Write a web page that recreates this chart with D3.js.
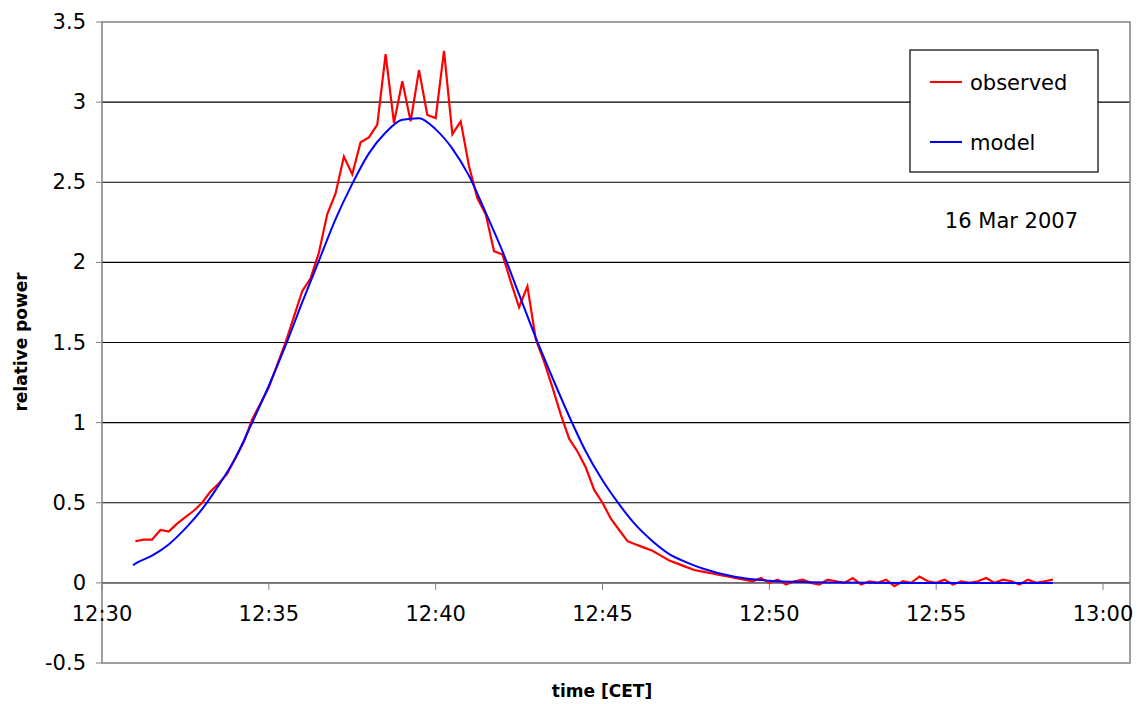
<!DOCTYPE html>
<html><head><meta charset="utf-8">
<script src="https://cdn.jsdelivr.net/npm/d3@7"></script>
<style>body{margin:0;background:#fff}text{font-family:"DejaVu Sans",Verdana,sans-serif}</style>
</head><body><svg id="c" width="1143" height="704"></svg>
<script>
// minutes after 12:30
const obsStart = 1.0, obsStep = 0.25;
const observed = [0.26,0.27,0.27,0.33,0.32,0.37,0.41,0.45,0.50,0.57,0.62,0.68,0.78,0.88,1.02,1.12,1.22,1.36,1.50,1.66,
  1.82,1.90,2.06,2.30,2.43,2.66,2.55,2.75,2.78,2.86,3.30,2.87,3.13,2.88,3.20,2.92,2.90,3.32,2.80,2.88,
  2.60,2.40,2.30,2.07,2.05,1.88,1.72,1.85,1.52,1.38,1.22,1.05,0.90,0.82,0.72,0.58,0.50,0.40,0.33,0.26,
  0.24,0.22,0.20,0.17,0.14,0.12,0.10,0.08,0.07,0.06,0.05,0.04,0.03,
  0.02,0.01,0.03,0.00,0.02,-0.01,0.01,0.02,0.00,-0.01,0.02,0.01,0.00,0.03,-0.01,0.01,0.00,0.02,-0.02,0.01,
  0.00,0.04,0.01,0.00,0.02,-0.01,0.01,0.00,0.01,0.03,0.00,0.02,0.01,-0.01,0.02,0.00,0.01,0.02];
const modelT = [0.93,1,1.5,2,2.5,3,3.5,4,4.5,5,5.5,6,6.5,7,7.5,8,8.5,9,9.5,10,10.5,11,11.5,12,12.5,13,13.5,14,14.5,15,15.5,16,16.5,17,17.5,18,19,20,21,22,24,26,28.5];
const modelV = [0.11,0.12,0.17,0.24,0.34,0.46,0.61,0.78,1.00,1.23,1.48,1.75,2.01,2.27,2.49,2.68,2.81,2.89,2.90,2.83,2.71,2.54,2.31,2.07,1.80,1.53,1.28,1.04,0.82,0.64,0.49,0.36,0.26,0.18,0.13,0.09,0.036,0.014,0.005,0.002,0,0,0];
const xTicks = ["12:30","12:35","12:40","12:45","12:50","12:55","13:00"];
const yTicks = [-0.5,0,0.5,1,1.5,2,2.5,3,3.5];

const svg = d3.select("#c");
const L=102,R=1130,T=22,B=663;
const x = d3.scaleLinear().domain([0,30]).range([L,1103]);
const y = d3.scaleLinear().domain([-0.5,3.5]).range([B,T]);

// gridlines
svg.append("g").selectAll("line").data(yTicks.filter(v=>v>-0.5&&v<3.5)).join("line")
  .attr("x1",L).attr("x2",R).attr("y1",y).attr("y2",y).attr("stroke","#000").attr("stroke-width",1.2);
svg.append("rect").attr("x",L).attr("y",T).attr("width",R-L).attr("height",B-T)
  .attr("fill","none").attr("stroke","#808080").attr("stroke-width",1.5);

// y tick labels
svg.append("g").selectAll("text").data(yTicks).join("text")
  .attr("x",L-16).attr("y",d=>y(d)+7).attr("text-anchor","end").attr("font-size",21)
  .text(d=>d);
svg.append("g").selectAll("line").data(yTicks).join("line")
  .attr("x1",L-6).attr("x2",L).attr("y1",y).attr("y2",y).attr("stroke","#808080");

// x axis at zero
svg.append("line").attr("x1",L).attr("x2",R).attr("y1",y(0)).attr("y2",y(0)).attr("stroke","#808080").attr("stroke-width",1.5);
svg.append("g").selectAll("line").data(xTicks).join("line")
  .attr("x1",(d,i)=>x(i*5)).attr("x2",(d,i)=>x(i*5)).attr("y1",y(0)).attr("y2",y(0)+7).attr("stroke","#808080");
svg.append("g").selectAll("text").data(xTicks).join("text")
  .attr("x",(d,i)=>x(i*5)).attr("y",y(0)+38).attr("text-anchor","middle").attr("font-size",21).text(d=>d);

// lines
const line = d3.line().x(d=>x(d[0])).y(d=>y(d[1]));
svg.append("path").datum(observed.map((v,i)=>[obsStart+i*obsStep,v]))
  .attr("d",line).attr("fill","none").attr("stroke","#ff0000").attr("stroke-width",2.2);
svg.append("path").datum(modelT.map((t,i)=>[t,modelV[i]])).attr("d",d3.line().curve(d3.curveMonotoneX).x(d=>x(d[0])).y(d=>y(d[1])))
  .attr("fill","none").attr("stroke","#0000ff").attr("stroke-width",2);

// axis titles
svg.append("text").attr("x",602).attr("y",697).attr("text-anchor","middle").attr("font-size",17).attr("font-weight","bold").text("time [CET]");
svg.append("text").attr("transform","translate(27,342) rotate(-90)").attr("text-anchor","middle").attr("font-size",17).attr("font-weight","bold").text("relative power");

// legend
svg.append("rect").attr("x",910).attr("y",50).attr("width",188).attr("height",122).attr("fill","#fff").attr("stroke","#000").attr("stroke-width",1.2);
[["observed","#ff0000",82],["model","#0000ff",142]].forEach(([n,c,yy])=>{
  svg.append("line").attr("x1",930).attr("x2",962).attr("y1",yy).attr("y2",yy).attr("stroke",c).attr("stroke-width",2);
  svg.append("text").attr("x",970).attr("y",yy+8).attr("font-size",21).text(n);
});
svg.append("text").attr("x",1078).attr("y",228).attr("text-anchor","end").attr("font-size",21).text("16 Mar 2007");
</script></body></html>
